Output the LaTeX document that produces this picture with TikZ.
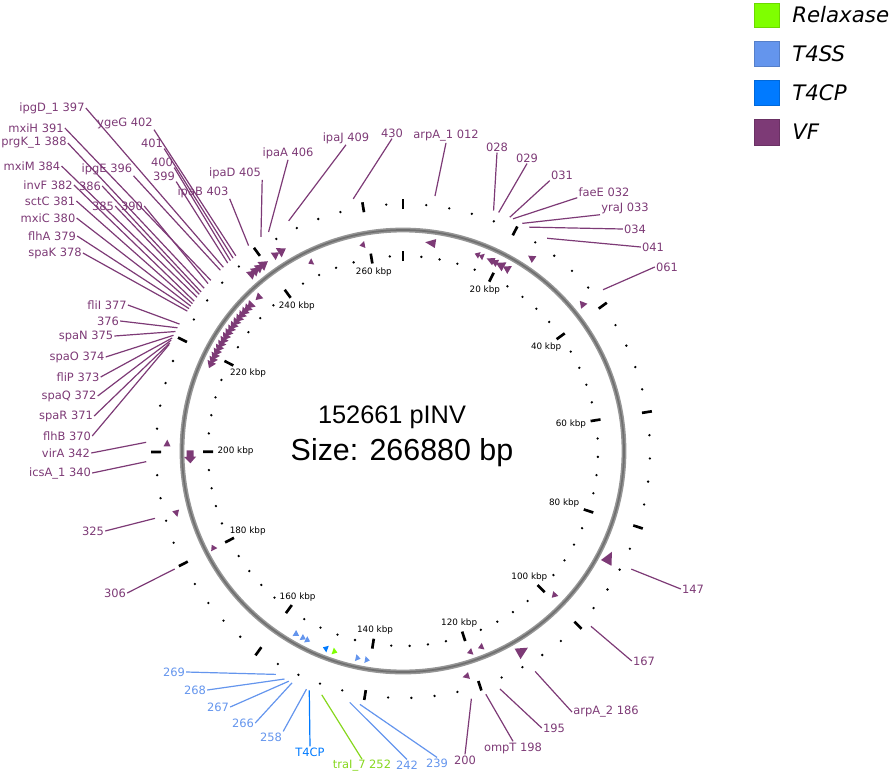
\documentclass[tikz,border=0pt]{standalone}
\usepackage{fontspec}
\setmainfont{DejaVu Sans}
\newfontfamily\arialfont{Liberation Sans}
\usepackage{xcolor}

\definecolor{vfc}{RGB}{125,58,118}
\definecolor{t4ssc}{RGB}{100,149,237}
\definecolor{t4cpc}{RGB}{0,122,255}
\definecolor{relc}{RGB}{127,255,0}
\definecolor{relt}{RGB}{135,215,30}
\definecolor{ringc}{RGB}{150,150,150}
\definecolor{ringd}{RGB}{112,112,112}

% kbp -> angle on the map (0 at the top, clockwise)
\newcommand{\ka}[1]{(#1)*1.348921-90}
% gene arrow: base, tip (kbp), radius, half width, colour
\newcommand{\gene}[5]{\fill[#5] ({\ka{#1}}:{#3-#4}) -- ({\ka{#2}}:{#3}) -- ({\ka{#1}}:{#3+#4}) -- cycle;}

\begin{document}
\begin{tikzpicture}[x=0.75pt,y=0.75pt,yscale=-1,xscale=1,
    lab/.style={font=\fontsize{8.6}{10}\selectfont, inner sep=0.75pt},
    kbp/.style={font=\fontsize{6.6}{8}\selectfont, inner sep=1pt},
    legtext/.style={font=\fontsize{16}{18}\selectfont\itshape, inner sep=0.75pt, anchor=west},
    lead/.style={line width=0.9pt},
    tick/.style={line width=2pt}]
\useasboundingbox (0,0) rectangle (893,775);

\begin{scope}[shift={(403,451)}]
%Backbone
\draw[ringc, line width=3.6pt] (0,0) circle (221);
\draw[ringd, line width=1.3pt] (0,0) circle (221);

%Ticks every 4 kbp, long ones every 20 kbp
\foreach \k in {0,...,66}{
  \pgfmathsetmacro\ang{\k*4*1.348921-90}
  \pgfmathtruncatemacro\m{mod(\k,5)}
  \ifnum\m=0
    \draw[tick] (\ang:190) -- (\ang:200) (\ang:242) -- (\ang:252);
  \else
    \fill (\ang:195) circle (1.3) (\ang:247) circle (1.3);
  \fi
}

%Scale labels
\foreach \v in {20,40,...,260}{
  \pgfmathsetmacro\ang{\v*1.348921-90}
  \pgfmathtruncatemacro\anc{-\ang}
  \node[kbp, anchor/.expanded=\anc] (k\v) at (\ang:187) {\v\ kbp};
}

%Genes, outer strand
\gene{236.3}{237.8}{233}{5}{vfc}
\gene{237.2}{238.7}{233}{5}{vfc}
\gene{238.1}{239.6}{233}{5}{vfc}
\gene{239.0}{240.6}{233}{5.5}{vfc}
\gene{241.9}{243.2}{234}{4.5}{vfc}
\gene{243.1}{244.6}{234}{5.5}{vfc}
\gene{25.5}{24.2}{232}{4}{vfc}
\gene{38.1}{36.8}{232}{4}{vfc}
\gene{88.1}{85.8}{232}{6}{vfc}
\gene{111.6}{109.4}{233}{6}{vfc}
\gene{121.3}{122.5}{234}{3.5}{vfc}
\gene{189.3}{188.1}{235}{3.5}{vfc}
\gene{201.0}{202.2}{236}{3.5}{vfc}

%Genes, inner strand
\gene{6.6}{4.5}{210}{4.5}{vfc}
\gene{15.8}{14.8}{210}{3.5}{vfc}
\gene{16.7}{15.7}{210}{3.5}{vfc}
\gene{19.0}{17.4}{210}{4}{vfc}
\gene{19.8}{18.4}{210}{4}{vfc}
\gene{21.3}{19.4}{210}{5}{vfc}
\gene{22.6}{21.1}{210}{4.5}{vfc}
\gene{98.6}{99.8}{209}{3.5}{vfc}
\gene{116.9}{118.0}{211}{3.5}{vfc}
\gene{119.3}{120.4}{212}{3.5}{vfc}
\gene{141.1}{140.1}{212}{3.5}{t4ssc}
\gene{143.0}{142.0}{212}{3.5}{t4ssc}
\gene{147.8}{146.8}{212}{3.5}{relc}
\gene{148.9}{149.9}{212}{3.5}{t4cpc}
\gene{153.7}{152.7}{212}{3.5}{t4ssc}
\gene{154.7}{153.7}{212}{3.5}{t4ssc}
\gene{156.3}{155.2}{212}{3.5}{t4ssc}
\gene{179.7}{180.8}{213}{3.5}{vfc}
\fill[vfc] ({\ka{200.3}}:209.5) -- ({\ka{199.0}}:209.5) -- ({\ka{199.0}}:207) -- ({\ka{197.7}}:213) -- ({\ka{199.0}}:219) -- ({\ka{199.0}}:216.5) -- ({\ka{200.3}}:216.5) -- cycle;
\foreach \s in {217.3,218.2,...,232.0}{\gene{\s+1.4}{\s}{211}{4.7}{vfc}}
\gene{235.4}{234.0}{211}{4}{vfc}
\gene{248.0}{247.0}{210}{3.5}{vfc}
\gene{259.1}{258.0}{210}{3.5}{vfc}

%Label line ends
\coordinate (e012) at ({\ka{5.3}}:257);
\coordinate (e028) at ({\ka{15.3}}:257);
\coordinate (e029) at ({\ka{16.2}}:257);
\coordinate (e031) at ({\ka{18.2}}:257);
\coordinate (e032) at ({\ka{18.8}}:257);
\coordinate (e033) at ({\ka{20.5}}:257);
\coordinate (e034) at ({\ka{21.8}}:257);
\coordinate (e041) at ({\ka{25.3}}:257);
\coordinate (e061) at ({\ka{37.9}}:257);
\coordinate (e147) at ({\ka{87.0}}:257);
\coordinate (e167) at ({\ka{98.6}}:257);
\coordinate (e186) at ({\ka{110.5}}:257);
\coordinate (e195) at ({\ka{117.0}}:257);
\coordinate (e198) at ({\ka{119.5}}:257);
\coordinate (e200) at ({\ka{122.0}}:257);
\coordinate (e239) at ({\ka{140.6}}:257);
\coordinate (e242) at ({\ka{142.3}}:257);
\coordinate (e252) at ({\ka{147.1}}:257);
\coordinate (eT4) at ({\ka{149.3}}:257);
\coordinate (e258) at ({\ka{149.8}}:257);
\coordinate (e266) at ({\ka{152.4}}:257);
\coordinate (e267) at ({\ka{153.0}}:257);
\coordinate (e268) at ({\ka{153.8}}:257);
\coordinate (e269) at ({\ka{155.4}}:257);
\coordinate (e306) at ({\ka{179.9}}:257);
\coordinate (e325) at ({\ka{188.9}}:257);
\coordinate (e340) at ({\ka{198.4}}:257);
\coordinate (e342) at ({\ka{201.6}}:257);
\coordinate (e370) at ({\ka{218.3}}:257);
\coordinate (e371) at ({\ka{218.6}}:257);
\coordinate (e372) at ({\ka{219.1}}:257);
\coordinate (e373) at ({\ka{219.5}}:257);
\coordinate (e374) at ({\ka{220.0}}:257);
\coordinate (e375) at ({\ka{220.7}}:257);
\coordinate (e376) at ({\ka{221.4}}:257);
\coordinate (e377) at ({\ka{222.1}}:257);
\coordinate (e378) at ({\ka{224.6}}:257);
\coordinate (e379) at ({\ka{225.1}}:257);
\coordinate (e380) at ({\ka{225.6}}:257);
\coordinate (e381) at ({\ka{226.1}}:257);
\coordinate (e382) at ({\ka{226.6}}:257);
\coordinate (e384) at ({\ka{227.4}}:257);
\coordinate (e385) at ({\ka{228.0}}:257);
\coordinate (e386) at ({\ka{228.5}}:257);
\coordinate (e388) at ({\ka{229.3}}:257);
\coordinate (e390) at ({\ka{230.3}}:257);
\coordinate (e391) at ({\ka{231.0}}:257);
\coordinate (e396) at ({\ka{233.3}}:257);
\coordinate (e397) at ({\ka{234.0}}:257);
\coordinate (e399) at ({\ka{235.0}}:257);
\coordinate (e400) at ({\ka{235.6}}:257);
\coordinate (e401) at ({\ka{236.2}}:257);
\coordinate (e402) at ({\ka{236.8}}:257);
\coordinate (e403) at ({\ka{239.5}}:257);
\coordinate (e405) at ({\ka{242.0}}:257);
\coordinate (e406) at ({\ka{243.5}}:257);
\coordinate (e409) at ({\ka{247.3}}:257);
\coordinate (e430) at ({\ka{258.6}}:257);
\end{scope}

% Text Node
\node[font=\arialfont\fontsize{19}{22}\selectfont] (title) at (392,417) {152661 pINV};
% Text Node
\node[font=\arialfont\fontsize{22.8}{26}\selectfont] (size) at (402,453) {Size: 266880 bp};

%Legend
\filldraw[fill=relc, draw=relc!85!black] (754,3) rectangle (779,27);
\node[legtext] (lgR) at (791,15) {Relaxase};
\filldraw[fill=t4ssc, draw=t4ssc!85!black] (754,41) rectangle (779,66);
\node[legtext] (lgS) at (791,54) {T4SS};
\filldraw[fill=t4cpc, draw=t4cpc!85!black] (754,80) rectangle (779,105);
\node[legtext] (lgC) at (791,93) {T4CP};
\filldraw[fill=vfc, draw=vfc!85!black] (754,119) rectangle (779,145);
\node[legtext] (lgV) at (791,132) {VF};

% Text Node - left upper group
\node[lab, vfc] (l397) at (52,108) {ipgD\_1 397};
\draw[lead, vfc] (l397.east) -- (e397);
\node[lab, vfc] (l391) at (36,128) {mxiH 391};
\draw[lead, vfc] (l391.east) -- (e391);
\node[lab, vfc] (l388) at (34,143) {prgK\_1 388};
\draw[lead, vfc] (l388.east) -- (e388);
\node[lab, vfc] (l384) at (32,166) {mxiM 384};
\draw[lead, vfc] (l384.east) -- (e384);
\node[lab, vfc] (l382) at (48,185) {invF 382};
\draw[lead, vfc] (l382.east) -- (e382);
\node[lab, vfc] (l381) at (50,201) {sctC 381};
\draw[lead, vfc] (l381.east) -- (e381);
\node[lab, vfc] (l380) at (48,218) {mxiC 380};
\draw[lead, vfc] (l380.east) -- (e380);
\node[lab, vfc] (l379) at (52,236) {flhA 379};
\draw[lead, vfc] (l379.east) -- (e379);
\node[lab, vfc] (l378) at (55,253) {spaK 378};
\draw[lead, vfc] (l378.east) -- (e378);
\node[lab, vfc] (l402) at (125,123) {ygeG 402};
\draw[lead, vfc] (l402.south east) -- (e402);
\node[lab, vfc] (l401) at (152,143) {401};
\draw[lead, vfc] (l401.south east) -- (e401);
\node[lab, vfc] (l400) at (162,162) {400};
\draw[lead, vfc] (l400.south east) -- (e400);
\node[lab, vfc] (l399) at (164,176) {399};
\draw[lead, vfc] (l399.south east) -- (e399);
\node[lab, vfc] (l403) at (203,192) {ipaB 403};
\draw[lead, vfc] (l403.south east) -- (e403);
\node[lab, vfc] (l405) at (235,173) {ipaD 405};
\draw[lead, vfc] (l405.south east) -- (e405);
\node[lab, vfc] (l406) at (288,153) {ipaA 406};
\draw[lead, vfc] (l406.south) -- (e406);
\node[lab, vfc] (l396) at (107,169) {ipgE 396};
\draw[lead, vfc] (l396.south east) -- (e396);
\node[lab, vfc] (l386) at (90,186) {386};
\draw[lead, vfc] (l386.east) -- (e386);
\node[lab, vfc] (l385) at (103,206) {385};
\draw[lead, vfc] (l385.east) -- (e385);
\node[lab, vfc] (l390) at (132,206) {390};
\draw[lead, vfc] (l390.east) -- (e390);

% Text Node - top
\node[lab, vfc] (l409) at (346,138) {ipaJ 409};
\draw[lead, vfc] (l409.south) -- (e409);
\node[lab, vfc] (l430) at (392,133) {430};
\draw[lead, vfc] (l430.south) -- (e430);
\node[lab, vfc] (l012) at (446,136) {arpA\_1 012};
\draw[lead, vfc] (l012.south) -- (e012);
\node[lab, vfc] (l028) at (497,147) {028};
\draw[lead, vfc] (l028.south) -- (e028);
\node[lab, vfc] (l029) at (527,158) {029};
\draw[lead, vfc] (l029.south) -- (e029);
\node[lab, vfc] (l031) at (562,175) {031};
\draw[lead, vfc] (l031.south west) -- (e031);
\node[lab, vfc] (l032) at (604,192) {faeE 032};
\draw[lead, vfc] (l032.south west) -- (e032);
\node[lab, vfc] (l033) at (625,208) {yraJ 033};
\draw[lead, vfc] (l033.south west) -- (e033);
\node[lab, vfc] (l034) at (635,229) {034};
\draw[lead, vfc] (l034.west) -- (e034);
\node[lab, vfc] (l041) at (653,247) {041};
\draw[lead, vfc] (l041.west) -- (e041);
\node[lab, vfc] (l061) at (667,267) {061};
\draw[lead, vfc] (l061.west) -- (e061);

% Text Node - right and bottom
\node[lab, vfc] (l147) at (693,589) {147};
\draw[lead, vfc] (l147.west) -- (e147);
\node[lab, vfc] (l167) at (644,661) {167};
\draw[lead, vfc] (l167.west) -- (e167);
\node[lab, vfc] (l186) at (606,712) {arpA\_2 186};
\draw[lead, vfc] (l186.west) -- (e186);
\node[lab, vfc] (l195) at (554,728) {195};
\draw[lead, vfc] (l195.west) -- (e195);
\node[lab, vfc] (l198) at (513,748) {ompT 198};
\draw[lead, vfc] (l198.north) -- (e198);
\node[lab, vfc] (l200) at (465,760) {200};
\draw[lead, vfc] (l200.north) -- (e200);
\node[lab, t4ssc] (l239) at (437,763) {239};
\draw[lead, t4ssc] (l239.north) -- (e239);
\node[lab, t4ssc] (l242) at (407,765) {242};
\draw[lead, t4ssc] (l242.north) -- (e242);
\node[lab, relt] (l252) at (362,766) {traI\_7 252};
\draw[lead, relt] (l252.north) -- (e252);
\node[lab, t4cpc] (lT4) at (310,752) {T4CP};
\draw[lead, t4cpc] (lT4.north) -- (eT4);
\node[lab, t4ssc] (l258) at (271,737) {258};
\draw[lead, t4ssc] (l258.north east) -- (e258);
\node[lab, t4ssc] (l266) at (243,723) {266};
\draw[lead, t4ssc] (l266.east) -- (e266);
\node[lab, t4ssc] (l267) at (218,707) {267};
\draw[lead, t4ssc] (l267.east) -- (e267);
\node[lab, t4ssc] (l268) at (195,690) {268};
\draw[lead, t4ssc] (l268.east) -- (e268);
\node[lab, t4ssc] (l269) at (174,672) {269};
\draw[lead, t4ssc] (l269.east) -- (e269);

% Text Node - left
\node[lab, vfc] (l306) at (115,593) {306};
\draw[lead, vfc] (l306.east) -- (e306);
\node[lab, vfc] (l325) at (93,531) {325};
\draw[lead, vfc] (l325.east) -- (e325);
\node[lab, vfc] (l340) at (60,473) {icsA\_1 340};
\draw[lead, vfc] (l340.east) -- (e340);
\node[lab, vfc] (l342) at (66,453) {virA 342};
\draw[lead, vfc] (l342.east) -- (e342);
\node[lab, vfc] (l370) at (67,436) {flhB 370};
\draw[lead, vfc] (l370.east) -- (e370);
\node[lab, vfc] (l371) at (66,416) {spaR 371};
\draw[lead, vfc] (l371.east) -- (e371);
\node[lab, vfc] (l372) at (69,396) {spaQ 372};
\draw[lead, vfc] (l372.east) -- (e372);
\node[lab, vfc] (l373) at (78,377) {fliP 373};
\draw[lead, vfc] (l373.east) -- (e373);
\node[lab, vfc] (l374) at (77,357) {spaO 374};
\draw[lead, vfc] (l374.east) -- (e374);
\node[lab, vfc] (l375) at (86,336) {spaN 375};
\draw[lead, vfc] (l375.east) -- (e375);
\node[lab, vfc] (l376) at (108,321) {376};
\draw[lead, vfc] (l376.east) -- (e376);
\node[lab, vfc] (l377) at (107,305) {fliI 377};
\draw[lead, vfc] (l377.east) -- (e377);

\end{tikzpicture}
\end{document}
